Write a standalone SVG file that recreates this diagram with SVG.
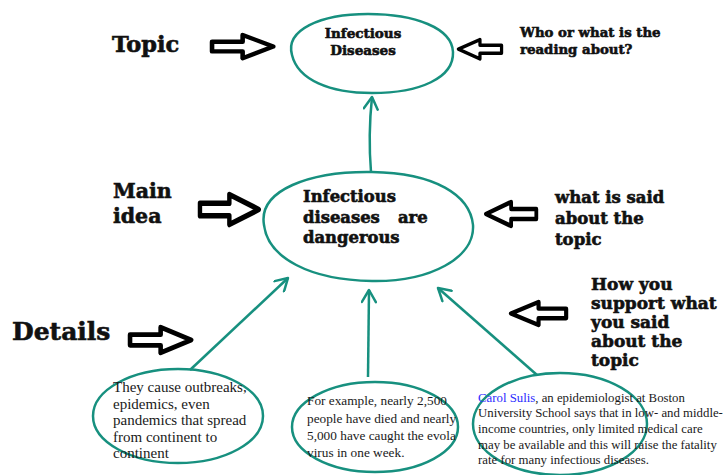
<svg xmlns="http://www.w3.org/2000/svg" width="728" height="475" viewBox="0 0 728 475">
<style>
.lbl{font-family:"DejaVu Serif","Liberation Serif",serif;font-weight:bold;fill:#111;stroke:#111;stroke-width:0.6}
.body{font-family:"Liberation Serif","Times New Roman",serif;fill:#1a1a1a}
.blob{fill:none;stroke:#17907f;stroke-width:2.5}
.con{fill:none;stroke:#17907f;stroke-width:2.5}
.barrow{fill:#fff;stroke:#000;stroke-width:4.5;stroke-linejoin:round;vector-effect:non-scaling-stroke}
</style>
<defs>
<path id="ra" d="M2,9 H32 V2 L62,14 L32,26 V19 H2 Z"/>
<marker id="oh" markerUnits="userSpaceOnUse" markerWidth="16" markerHeight="16" refX="14" refY="8" orient="auto" viewBox="0 0 16 16">
<path d="M2,1 L14,8 L2,15" fill="none" stroke="#17907f" stroke-width="2.5" stroke-linecap="round" stroke-linejoin="round"/>
</marker>
</defs>
<rect width="728" height="475" fill="#fff"/>

<g id="labels">
<text class="lbl" x="112" y="52" font-size="22.5">Topic</text>
<text class="lbl" x="520" y="37" font-size="13.3">Who or what is the</text>
<text class="lbl" x="520" y="54" font-size="13.3">reading about?</text>
<text class="lbl" x="113" y="198" font-size="20.5">Main</text>
<text class="lbl" x="113" y="223" font-size="20.5">idea</text>
<text class="lbl" x="555" y="203" font-size="16.5">what is said</text>
<text class="lbl" x="555" y="224" font-size="16.5">about the</text>
<text class="lbl" x="555" y="245" font-size="16.5">topic</text>
<text class="lbl" x="591" y="290" font-size="17">How you</text>
<text class="lbl" x="591" y="309" font-size="17">support what</text>
<text class="lbl" x="591" y="328" font-size="17">you said</text>
<text class="lbl" x="591" y="347" font-size="17">about the</text>
<text class="lbl" x="591" y="366" font-size="17">topic</text>
<text class="lbl" x="12" y="340" font-size="25">Details</text>
</g>

<g id="block-arrows">
<use href="#ra" class="barrow" transform="translate(210,33) scale(1.02,0.97)"/>
<use href="#ra" class="barrow" transform="translate(503,38) scale(-0.72,0.8)"/>
<use href="#ra" class="barrow" transform="translate(198,192) scale(0.98,1.25)"/>
<use href="#ra" class="barrow" transform="translate(538,200) scale(-0.84,1)"/>
<use href="#ra" class="barrow" transform="translate(568,300) scale(-0.92,0.96)"/>
<use href="#ra" class="barrow" transform="translate(128,325) scale(1.02,1.07)"/>
</g>

<g id="node-topic">
<path class="blob" d="M292,55 C285,30 320,14 368,14 C415,14 452,28 453,52 C454,78 420,93 372,93 C330,93 298,80 292,55 Z"/>
<text class="lbl" x="363" y="38" font-size="13.5" text-anchor="middle">Infectious</text>
<text class="lbl" x="363" y="55" font-size="13.5" text-anchor="middle">Diseases</text>
</g>

<g id="node-main">
<path class="blob" d="M264,225 C258,190 310,171 372,172 C435,173 470,195 473,225 C475,258 430,282 372,281 C310,280 268,258 264,225 Z"/>
<text class="lbl" x="303" y="202" font-size="16.4">Infectious</text>
<text class="lbl" x="303" y="223" font-size="16.4">diseases</text>
<text class="lbl" x="398" y="223" font-size="16.4">are</text>
<text class="lbl" x="303" y="243" font-size="16.4">dangerous</text>
</g>

<g id="node-detail1">
<ellipse class="blob" cx="178" cy="416" rx="85" ry="47"/>
<text class="body" font-size="15" x="113" y="392">They cause outbreaks,</text>
<text class="body" font-size="15" x="113" y="408.5">epidemics, even</text>
<text class="body" font-size="15" x="113" y="425">pandemics that spread</text>
<text class="body" font-size="15" x="113" y="441.5">from continent to</text>
<text class="body" font-size="15" x="113" y="458">continent</text>
</g>

<g id="node-detail2">
<ellipse class="blob" cx="375" cy="427" rx="83" ry="45"/>
<text class="body" font-size="13.3" x="307" y="405">For example, nearly 2,500</text>
<text class="body" font-size="13.3" x="307" y="422.5">people have died and nearly</text>
<text class="body" font-size="13.3" x="307" y="440">5,000 have caught the evola</text>
<text class="body" font-size="13.3" x="307" y="457">virus in one week.</text>
</g>

<g id="node-detail3">
<ellipse class="blob" cx="560" cy="424" rx="87" ry="51"/>
<text class="body" font-size="12.8" x="478" y="402"><tspan fill="#2b2bff">Carol Sulis</tspan>, an epidemiologist at Boston</text>
<text class="body" font-size="12.8" x="478" y="417">University School says that in low- and middle-</text>
<text class="body" font-size="12.8" x="478" y="433">income countries, only limited medical care</text>
<text class="body" font-size="12.8" x="478" y="449">may be available and this will raise the fatality</text>
<text class="body" font-size="12.8" x="478" y="464">rate for many infectious diseases.</text>
</g>

<g id="connectors">
<path class="con" marker-end="url(#oh)" d="M371,172 Q368,135 372,97"/>
<path class="con" marker-end="url(#oh)" d="M190,370 L288,278"/>
<path class="con" marker-end="url(#oh)" d="M368,377 L369,290"/>
<path class="con" marker-end="url(#oh)" d="M537,375 L438,288"/>
</g>
</svg>
